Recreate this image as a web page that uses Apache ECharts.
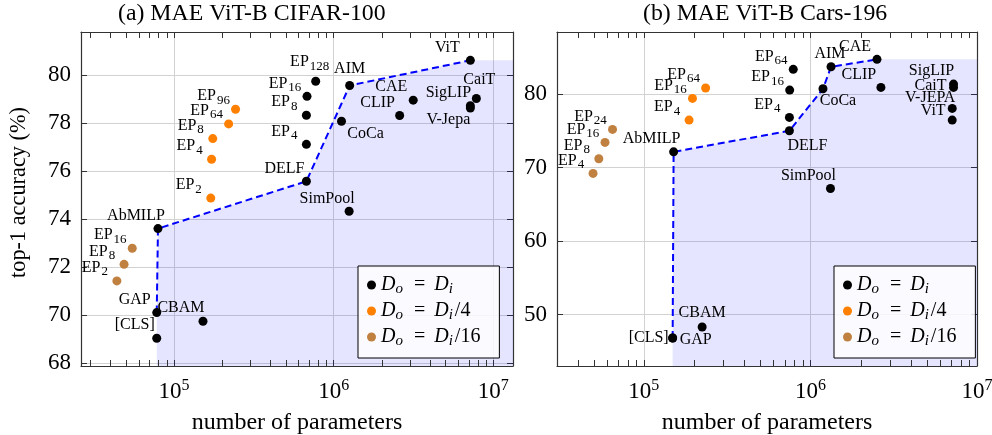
<!DOCTYPE html>
<html>
<head>
<meta charset="utf-8">
<script src="https://cdn.jsdelivr.net/npm/echarts@6/dist/echarts.min.js"></script>
<style>
  html, body { margin: 0; padding: 0; background: #ffffff; }
  #chart { width: 992px; height: 435px; }
</style>
</head>
<body>
<div id="chart"></div>
<script>
// ---------- (a) CIFAR-100 ----------
const cifarBlackNames  = ['[CLS]', 'GAP', 'CBAM', 'AbMILP', 'SimPool', 'DELF', 'EP4', 'EP8', 'EP16', 'EP128', 'AIM', 'CoCa', 'CLIP', 'CAE', 'SigLIP', 'V-Jepa', 'CaiT', 'ViT'];
const cifarBlackParams = [7.8e4, 7.8e4, 1.52e5, 7.94e4, 1.25e6, 6.75e5, 6.75e5, 6.75e5, 6.81e5, 7.72e5, 1.26e6, 1.12e6, 2.59e6, 3.15e6, 7.18e6, 7.18e6, 7.83e6, 7.18e6];
const cifarBlackAcc    = [69.03, 70.10, 69.74, 73.60, 74.32, 75.57, 77.11, 78.32, 79.11, 79.74, 79.56, 78.07, 78.31, 78.95, 78.72, 78.62, 79.02, 80.61];
const cifarOrangeNames  = ['EP2', 'EP4', 'EP8', 'EP64', 'EP96'];
const cifarOrangeParams = [1.70e5, 1.72e5, 1.75e5, 2.20e5, 2.43e5];
const cifarOrangeAcc    = [74.87, 76.49, 77.35, 77.96, 78.57];
const cifarBrownNames  = ['EP2', 'EP8', 'EP16'];
const cifarBrownParams = [4.39e4, 4.87e4, 5.48e4];
const cifarBrownAcc    = [71.42, 72.11, 72.78];
const cifarFrontier = ['GAP', 'AbMILP', 'DELF', 'AIM', 'ViT'];

// ---------- (b) Cars-196 ----------
const carsBlackNames  = ['[CLS]', 'GAP', 'CBAM', 'AbMILP', 'SimPool', 'DELF', 'EP4', 'EP16', 'EP64', 'CoCa', 'AIM', 'CLIP', 'CAE', 'SigLIP', 'CaiT', 'V-JEPA', 'ViT'];
const carsBlackParams = [1.49e5, 1.49e5, 2.24e5, 1.51e5, 1.32e6, 7.48e5, 7.48e5, 7.51e5, 7.89e5, 1.19e6, 1.33e6, 2.65e6, 2.51e6, 7.23e6, 7.23e6, 7.10e6, 7.10e6];
const carsBlackAcc    = [46.84, 46.84, 48.34, 72.15, 67.17, 75.01, 76.83, 80.54, 83.36, 80.72, 83.71, 80.91, 84.72, 81.36, 80.91, 78.05, 76.46];
const carsOrangeNames  = ['EP4', 'EP16', 'EP64'];
const carsOrangeParams = [1.87e5, 1.96e5, 2.35e5];
const carsOrangeAcc    = [76.46, 79.41, 80.82];
const carsBrownNames  = ['EP4', 'EP8', 'EP16', 'EP24'];
const carsBrownParams = [4.96e4, 5.37e4, 5.85e4, 6.49e4];
const carsBrownAcc    = [69.21, 71.20, 73.43, 75.20];
const carsFrontier = ['[CLS]', 'AbMILP', 'DELF', 'CoCa', 'AIM', 'CAE'];

// ---------- ticks / legend ----------
const cifarYTicks = [68, 70, 72, 74, 76, 78, 80];
const carsYTicks = [50, 60, 70, 80];
const xTickExponents = [5, 6, 7];
const minorMultipliers = [2, 3, 4, 5, 6, 7, 8, 9];
const minorDecades = [1e4, 1e5, 1e6];
const groupNames = ['D_o = D_i', 'D_o = D_i/4', 'D_o = D_i/16'];

const FONT = "'Liberation Serif', 'DejaVu Serif', serif";
const groupColors = ['#000000', '#ff8000', '#c08040'];
const shadeColor = 'rgba(0, 0, 255, 0.10)';
const frameColor = '#333333';
const gridLineColor = '#d2d2d2';

// where each label's centre sits relative to its marker (pixels)
const defaultOffset = [-22, -13];
const panels = [
  {
    title: '(a) MAE ViT-B CIFAR-100', titleLeft: 118,
    grid: { left: 81, top: 32, width: 432, height: 334 },
    xMin: 26170, xMax: 1.328e7, yMin: 67.875, yMax: 81.79, ySplit: 7,
    yTicks: cifarYTicks, yName: 'top-1 accuracy (%)',
    shadeEnd: 1.328e7, shadeClip: true, legendLeft: 358,
    groups: [
      [cifarBlackNames, cifarBlackParams, cifarBlackAcc],
      [cifarOrangeNames, cifarOrangeParams, cifarOrangeAcc],
      [cifarBrownNames, cifarBrownParams, cifarBrownAcc]
    ],
    frontier: cifarFrontier,
    offsets: {
      'CoCa': [24, 13], 'V-Jepa': [-22, 12], 'EP128': [-6, -19], 'AIM': [0, -17],
      'CaiT': [3, -19], 'ViT': [-23, -13]
    }
  },
  {
    title: '(b) MAE ViT-B Cars-196', titleLeft: 643,
    grid: { left: 557, top: 32, width: 420, height: 334 },
    xMin: 30130, xMax: 1e7, yMin: 43.03, yMax: 88.44, ySplit: 5,
    yTicks: carsYTicks, yName: '',
    shadeEnd: 1.2e7, shadeClip: false, legendLeft: 834,
    groups: [
      [carsBlackNames, carsBlackParams, carsBlackAcc],
      [carsOrangeNames, carsOrangeParams, carsOrangeAcc],
      [carsBrownNames, carsBrownParams, carsBrownAcc]
    ],
    frontier: carsFrontier,
    offsets: {
      'AIM': [-1, -13], 'CoCa': [15, 12], 'DELF': [18, 15], 'CaiT': [-23, -2],
      'V-JEPA': [-22, -11], 'ViT': [-19, -9], '[CLS]': [-24, 0], 'GAP': [23, 2], 'CBAM': [0, -14]
    }
  }
];

function pointLabel(name) {
  const m = name.match(/^EP(\d+)$/);
  return m ? '{m|EP}{sub|' + m[1] + '}' : '{m|' + name + '}';
}

const labelRich = {
  m: { fontFamily: FONT, fontSize: 16, color: '#000' },
  sub: { fontFamily: FONT, fontSize: 13, color: '#000', padding: [8, 0, 0, 1] }
};

function legendText(name) {
  const rhs = name.split(' = ')[1];
  const suffix = rhs.slice(3);
  return '{d|D}{s|o}{q|=}{d|D}{s|i}' + (suffix ? '{n|' + suffix + '}' : '');
}

const option = {
  animation: false,
  backgroundColor: '#ffffff',
  title: [],
  grid: [],
  xAxis: [],
  yAxis: [],
  legend: [],
  series: []
};

panels.forEach((p, i) => {
  option.title.push({
    text: p.title, left: p.titleLeft, top: 2, padding: 0,
    textStyle: { fontFamily: FONT, fontSize: 23.8, fontWeight: 'normal', color: '#000' }
  });
  option.grid.push(Object.assign({ containLabel: false, outerBoundsMode: 'none' }, p.grid));

  const xBase = {
    type: 'log', logBase: 10, gridIndex: i, min: p.xMin, max: p.xMax,
    axisLine: { show: true, onZero: false, lineStyle: { color: frameColor, width: 1.2 } },
    axisTick: { show: true, inside: true, length: 6, lineStyle: { color: frameColor } }
  };
  option.xAxis.push(Object.assign({}, xBase, {
    position: 'bottom',
    splitLine: { show: true, lineStyle: { color: gridLineColor, width: 1 } },
    axisLabel: {
      margin: 12, color: '#000',
      formatter: v => {
        const e = Math.log10(v);
        const r = Math.round(e);
        return (Math.abs(e - r) < 1e-6 && xTickExponents.includes(r)) ? '{b|10}{e|' + r + '}' : '';
      },
      rich: {
        b: { fontFamily: FONT, fontSize: 23, color: '#000' },
        e: { fontFamily: FONT, fontSize: 16, color: '#000', padding: [0, 0, 12, 0] }
      }
    },
    name: 'number of parameters', nameLocation: 'middle', nameGap: 45,
    nameTextStyle: { fontFamily: FONT, fontSize: 24, color: '#000' }
  }));
  option.xAxis.push(Object.assign({}, xBase, {
    position: 'top', axisLabel: { show: false }, splitLine: { show: false }
  }));

  const yBase = {
    type: 'value', gridIndex: i, min: p.yMin, max: p.yMax, splitNumber: p.ySplit,
    axisLine: { show: true, onZero: false, lineStyle: { color: frameColor, width: 1.2 } },
    axisTick: { show: true, inside: true, length: 6, lineStyle: { color: frameColor } }
  };
  option.yAxis.push(Object.assign({}, yBase, {
    position: 'left',
    splitLine: { show: true, lineStyle: { color: gridLineColor, width: 1 } },
    axisLabel: {
      margin: 10, color: '#000', fontFamily: FONT, fontSize: 23,
      formatter: v => (p.yTicks.includes(v) ? String(v) : '')
    },
    name: p.yName, nameLocation: 'middle', nameGap: 51,
    nameTextStyle: { fontFamily: FONT, fontSize: 22.3, color: '#000', padding: [0, 0, 0, 13] }
  }));
  option.yAxis.push(Object.assign({}, yBase, {
    position: 'right', axisLabel: { show: false }, splitLine: { show: false }
  }));

  const xIdx = i * 2, yIdx = i * 2;

  // dominated region below the frontier
  const black = p.groups[0];
  const coordOf = n => {
    const k = black[0].indexOf(n);
    return [black[1][k], black[2][k]];
  };
  const frontierPts = p.frontier.map(coordOf);
  const last = frontierPts[frontierPts.length - 1];
  option.series.push({
    type: 'line', xAxisIndex: xIdx, yAxisIndex: yIdx, silent: true, z: 1,
    clip: p.shadeClip, symbol: 'none',
    data: frontierPts.concat([[p.shadeEnd, last[1]]]),
    lineStyle: { width: 0, opacity: 0 },
    areaStyle: { color: shadeColor, origin: 'start', opacity: 1 }
  });
  option.series.push({
    type: 'line', xAxisIndex: xIdx, yAxisIndex: yIdx, silent: true, z: 3,
    symbol: 'none', data: frontierPts,
    lineStyle: { color: '#0000ff', width: 2, type: [7, 4] }
  });

  p.groups.forEach((g, gi) => {
    const [names, params, acc] = g;
    option.series.push({
      type: 'scatter', name: groupNames[gi], xAxisIndex: xIdx, yAxisIndex: yIdx, z: 5,
      symbol: 'circle', symbolSize: 9,
      itemStyle: { color: groupColors[gi], opacity: 1 },
      emphasis: { disabled: true },
      data: names.map((n, k) => ({
        name: n,
        value: [params[k], acc[k]],
        label: { offset: p.offsets[n] || defaultOffset }
      })),
      label: {
        show: true, position: 'inside', align: 'center', verticalAlign: 'middle',
        color: '#000', formatter: d => pointLabel(d.name), rich: labelRich
      }
    });
  });

  option.legend.push({
    data: groupNames, orient: 'vertical', left: p.legendLeft, top: 266,
    backgroundColor: 'rgba(255,255,255,0.85)', borderColor: '#000', borderWidth: 1,
    borderRadius: 0, padding: [9, 19, 9, 9], itemGap: 4, itemWidth: 9, itemHeight: 9,
    icon: 'circle', selectedMode: false,
    formatter: legendText,
    textStyle: {
      color: '#000',
      rich: {
        d: { fontFamily: FONT, fontStyle: 'italic', fontSize: 20, color: '#000' },
        s: { fontFamily: FONT, fontStyle: 'italic', fontSize: 15, color: '#000', padding: [9, 2, 0, 0] },
        q: { fontFamily: FONT, fontSize: 20, color: '#000', padding: [0, 9, 0, 9] },
        n: { fontFamily: FONT, fontSize: 20, color: '#000' }
      }
    }
  });
});

const chart = echarts.init(document.getElementById('chart'), null, { renderer: 'canvas' });
chart.setOption(option);

// minor log ticks along the top and bottom frame
const minorGraphics = [];
panels.forEach((p, i) => {
  const yBottom = p.grid.top + p.grid.height;
  const yTop = p.grid.top;
  minorDecades.forEach(d => {
    minorMultipliers.forEach(m => {
      const v = d * m;
      if (v <= p.xMin || v >= p.xMax) return;
      const x = Math.round(chart.convertToPixel({ xAxisIndex: i * 2 }, v)) + 0.5;
      minorGraphics.push({
        type: 'line', silent: true, z: 10,
        shape: { x1: x, y1: yBottom, x2: x, y2: yBottom - 6 },
        style: { stroke: frameColor, lineWidth: 1 }
      });
      minorGraphics.push({
        type: 'line', silent: true, z: 10,
        shape: { x1: x, y1: yTop, x2: x, y2: yTop + 6 },
        style: { stroke: frameColor, lineWidth: 1 }
      });
    });
  });
});
chart.setOption({ graphic: minorGraphics });
</script>
</body>
</html>
